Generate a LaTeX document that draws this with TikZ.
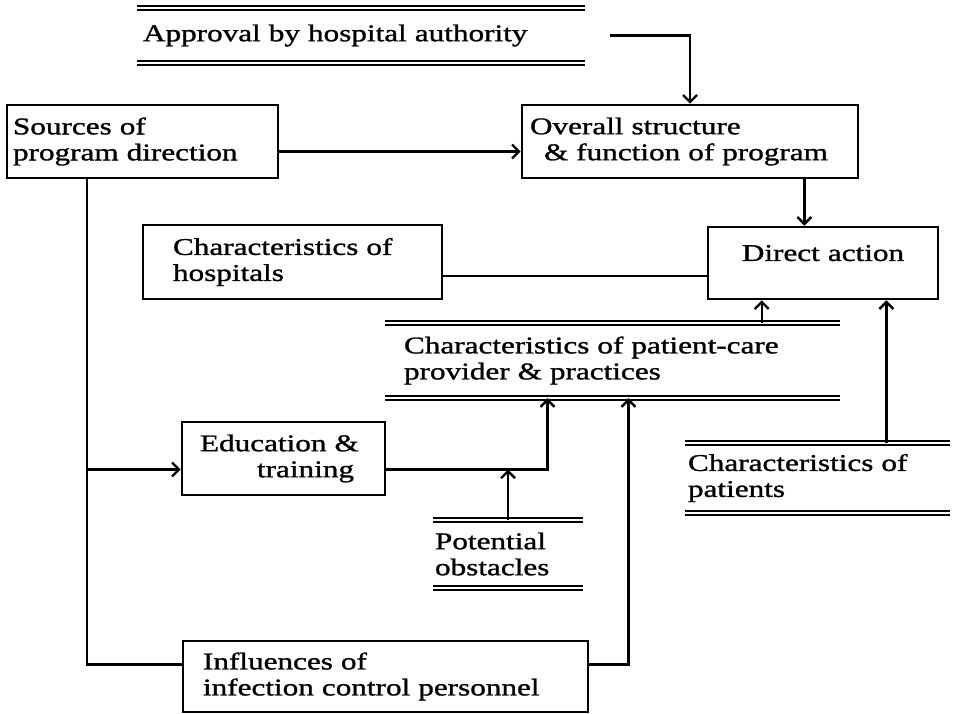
\documentclass[tikz,border=0pt]{standalone}
\usepackage{fontspec}
\setmainfont{Liberation Serif}[FakeStretch = 1.3, FakeBold = 1.2]
\usepackage{tikz}
\usetikzlibrary{arrows.meta}

\begin{document}
\begin{tikzpicture}[x = 1pt, y = -1pt,
		txt/.style = {font = \fontsize{24}{26}\selectfont, align = left},
		box/.style = {txt, draw, rectangle, line width = 2.6pt},
		store/.style = {txt},
		dbl/.style = {draw, double, double distance = 2.4pt, line width = 1.8pt},
		link/.style = {line width = 2.4pt},
		arr/.style = {link, -{Straight Barb[length = 7pt, width = 14pt]}}]
		\useasboundingbox (0,0) rectangle (956,714);
		% boxes
		\node[box, inner xsep = 6pt, text width = 259pt, minimum height = 73pt] at (142.5,141.5) (src) {Sources of\\program direction};
		\node[box, inner xsep = 8pt, text width = 320pt, minimum height = 73pt] at (690,141.5) (ovr) {Overall structure\\\hspace*{14pt}\& function of program};
		\node[box, inner xsep = 30pt, text width = 239pt, minimum height = 74pt] at (292.5,262) (hos) {Characteristics of\\hospitals};
		\node[box, align = center, inner xsep = 8pt, text width = 214pt, text depth = 20pt, minimum height = 72pt] at (823,263) (dir) {Direct action};
		\node[box, inner xsep = 18pt, text width = 167pt, minimum height = 73pt] at (283.5,458.5) (edu) {Education \&\\\hspace*{57pt}training};
		\node[box, inner xsep = 20pt, text width = 365pt, minimum height = 71pt] at (385.5,676.5) (inf) {Influences of\\infection control personnel};
		% double line entries
		\node[store, inner xsep = 6pt, text width = 436pt, minimum height = 55pt] at (361,35.5) (appr) {Approval by hospital authority};
		\node[store, inner xsep = 19pt, text width = 417pt, minimum height = 75pt] at (612.5,360.5) (care) {Characteristics of patient-care\\provider \& practices};
		\node[store, inner xsep = 3pt, text width = 259pt, minimum height = 70pt] at (817.5,478) (pat) {Characteristics of\\patients};
		\node[store, inner xsep = 2pt, text width = 146pt, minimum height = 68pt] at (508,554) (obst) {Potential\\obstacles};
		\foreach \n in {appr, care, pat, obst}
			\draw[dbl] (\n.north west) -- (\n.north east) (\n.south west) -- (\n.south east);
		% connection points
		\coordinate (a2o) at ([xshift = 25pt]appr.east);
		\coordinate (o2d) at ([xshift = -55pt]ovr.south east);
		\coordinate (h2d) at ([yshift = -14pt]hos.east);
		\coordinate (c2d) at ([xshift = 55pt]dir.south west);
		\coordinate (p2d) at ([xshift = -53pt]dir.south east);
		\coordinate (trunk) at ([xshift = 81pt]src.south west);
		\coordinate (e2in) at ([yshift = -11pt]edu.west);
		\coordinate (e2out) at ([yshift = -11pt]edu.east);
		\coordinate (i2in) at ([yshift = 12pt]inf.west);
		\coordinate (i2out) at ([yshift = 12pt]inf.east);
		% connectors
		\draw[arr] (a2o) -| (ovr.north);
		\draw[arr] ([yshift = -10pt]src.east) to ([yshift = -10pt]ovr.west);
		\draw[arr] (o2d) to (o2d |- dir.north);
		\draw[link] (h2d) to (h2d -| dir.west);
		\draw[arr] (c2d |- care.north) to (c2d);
		\draw[arr] (p2d |- pat.north) to (p2d);
		\draw[link] (trunk) |- (i2in);
		\draw[arr] (trunk |- e2in) to (e2in);
		\draw[arr] (e2out) -| ([xshift = -65pt]care.south);
		\draw[arr] (obst.north) to (obst.north |- e2out);
		\draw[arr] (i2out) -| ([xshift = 16pt]care.south);
	\end{tikzpicture}
\end{document}
